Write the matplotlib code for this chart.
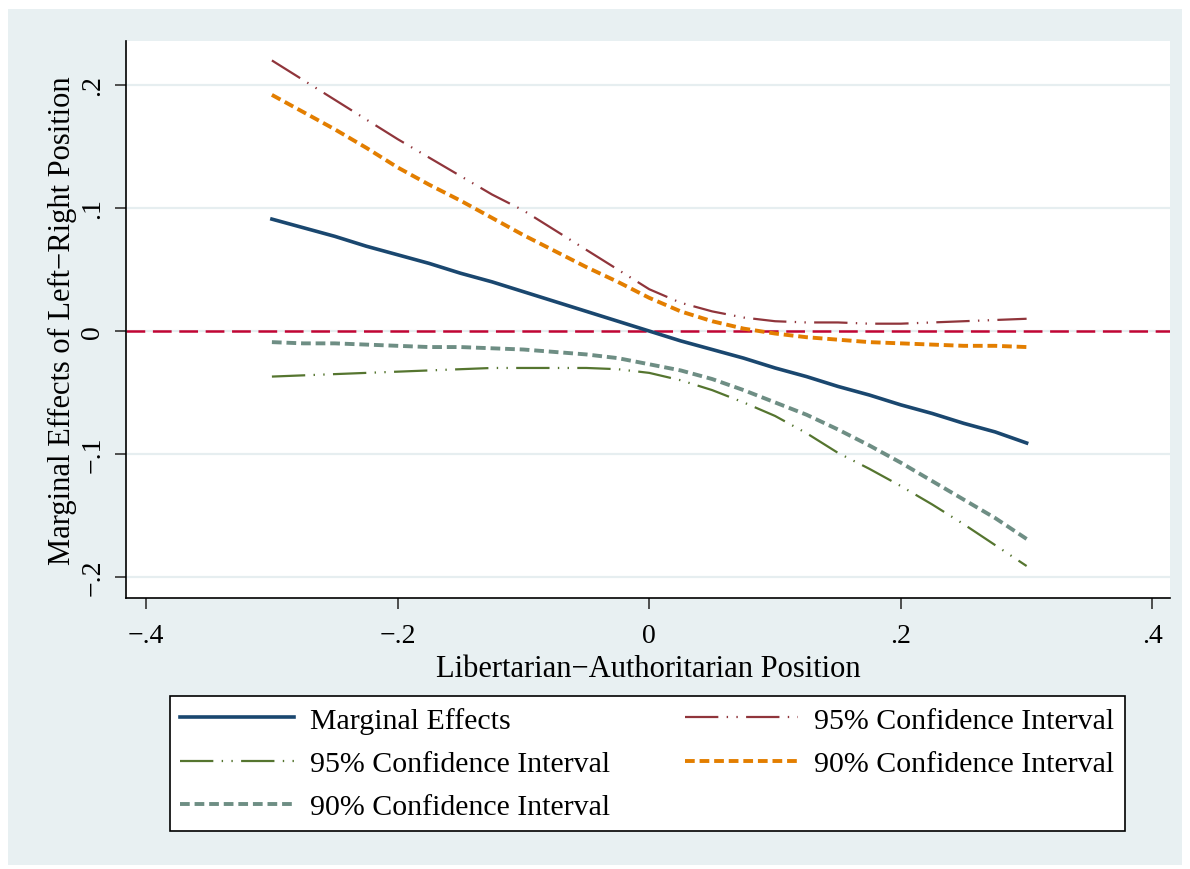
import matplotlib
matplotlib.use("Agg")
import matplotlib.pyplot as plt
from matplotlib.patches import Rectangle

plt.rcParams['font.family'] = ['Liberation Serif', 'DejaVu Serif']
plt.rcParams['lines.scale_dashes'] = False

# posicion libertario-autoritario
x_vals = [-0.300, -0.275, -0.250, -0.225, -0.200, -0.175, -0.150, -0.125, -0.100,
          -0.075, -0.050, -0.025, 0.000, 0.025, 0.050, 0.075, 0.100, 0.125,
          0.150, 0.175, 0.200, 0.225, 0.250, 0.275, 0.300]

marginal = [0.091, 0.084, 0.077, 0.069, 0.062, 0.055, 0.047, 0.040, 0.032,
            0.024, 0.016, 0.008, 0.000, -0.008, -0.015, -0.022, -0.030, -0.037,
            -0.045, -0.052, -0.060, -0.067, -0.075, -0.082, -0.091]
upper_95 = [0.220, 0.204, 0.188, 0.172, 0.156, 0.141, 0.126, 0.111, 0.098,
            0.082, 0.066, 0.050, 0.034, 0.023, 0.016, 0.011, 0.008, 0.007,
            0.007, 0.006, 0.006, 0.007, 0.008, 0.009, 0.010]
lower_95 = [-0.037, -0.036, -0.035, -0.034, -0.033, -0.032, -0.031, -0.030, -0.030,
            -0.030, -0.030, -0.031, -0.034, -0.040, -0.048, -0.058, -0.069, -0.083,
            -0.099, -0.112, -0.126, -0.141, -0.157, -0.174, -0.191]
upper_90 = [0.192, 0.178, 0.164, 0.149, 0.133, 0.119, 0.106, 0.092, 0.078,
            0.065, 0.052, 0.040, 0.027, 0.016, 0.008, 0.002, -0.002, -0.005,
            -0.007, -0.009, -0.010, -0.011, -0.012, -0.012, -0.013]
lower_90 = [-0.009, -0.010, -0.010, -0.011, -0.012, -0.013, -0.013, -0.014, -0.015,
            -0.017, -0.019, -0.022, -0.027, -0.032, -0.039, -0.048, -0.058, -0.068,
            -0.080, -0.093, -0.107, -0.122, -0.137, -0.152, -0.169]

x_ticks = [-0.4, -0.2, 0.0, 0.2, 0.4]
x_ticklabels = ['\u2212.4', '\u2212.2', '0', '.2', '.4']
y_ticks = [-0.2, -0.1, 0.0, 0.1, 0.2]
y_ticklabels = ['\u2212.2', '\u2212.1', '0', '.1', '.2']

bg = '#e8f0f2'
grid_col = '#e6eef0'
dash_dot_dot = (0, (24, 6, 1, 6, 1, 6))
fs = 20

fig = plt.figure(figsize=(11.9, 8.7), dpi=100)
# panel gris claro de fondo (debajo de los ejes)
fig.patches.append(Rectangle((8 / 1190, 1 - 866 / 870), 1174 / 1190, 856 / 870,
                             transform=fig.transFigure, facecolor=bg,
                             edgecolor='none', zorder=-10))

ax = fig.add_axes([126 / 1190, 1 - 599 / 870, 1044 / 1190, 557 / 870])
ax.set_facecolor('white')

for yt in y_ticks:
    ax.axhline(yt, color=grid_col, lw=1.6, zorder=1)
ax.axhline(0, color='#c10534', lw=1.8, ls=(0, (13.5, 5.5)), zorder=2)

ln_me, = ax.plot(x_vals, marginal, color='#1a476f', lw=2.6, zorder=5)
ln_u95, = ax.plot(x_vals, upper_95, color='#90353b', lw=1.6, ls=dash_dot_dot, zorder=4)
ln_l95, = ax.plot(x_vals, lower_95, color='#55752f', lw=1.6, ls=dash_dot_dot, zorder=4)
ln_u90, = ax.plot(x_vals, upper_90, color='#e37e00', lw=2.8, ls=(0, (7, 3.5)), zorder=4)
ln_l90, = ax.plot(x_vals, lower_90, color='#6e8e84', lw=2.8, ls=(0, (7, 3.5)), zorder=4)

ax.set_xlim(-0.416, 0.414)
ax.set_ylim(-0.217, 0.2358)
ax.set_xticks(x_ticks)
ax.set_xticklabels(x_ticklabels)
ax.set_yticks(y_ticks)
ax.set_yticklabels(y_ticklabels, rotation=90, va='center')

for side in ['top', 'right']:
    ax.spines[side].set_visible(False)
for side in ['left', 'bottom']:
    ax.spines[side].set_linewidth(1.2)
ax.tick_params(axis='both', length=8, width=1.2, labelsize=fs, color='#333333')
ax.tick_params(axis='x', pad=10)
ax.tick_params(axis='y', pad=7)

ax.set_xlabel('Libertarian\u2212Authoritarian Position', fontsize=22, labelpad=4)
ax.set_ylabel('Marginal Effects of Left\u2212Right Position', fontsize=22, labelpad=2)

handles = [ln_me, ln_l95, ln_l90, ln_u95, ln_u90]
labels = ['Marginal Effects', '95% Confidence Interval', '90% Confidence Interval',
          '95% Confidence Interval', '90% Confidence Interval']
leg = fig.legend(handles, labels, ncol=2, fontsize=21.5,
                 bbox_to_anchor=(170 / 1190, 1 - 832 / 870, 955 / 1190, 135 / 870),
                 loc='center', mode='expand', borderaxespad=0,
                 handlelength=3.8, handletextpad=0.55, labelspacing=0.55,
                 columnspacing=1.5, fancybox=False, framealpha=1,
                 edgecolor='black', borderpad=0.35)
leg.get_frame().set_linewidth(1.2)

fig.savefig('out.png', dpi=100, facecolor='white')
